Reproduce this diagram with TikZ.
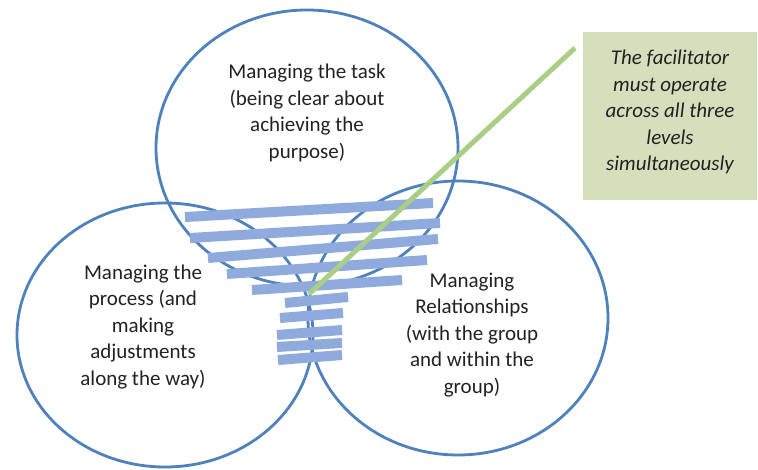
\documentclass[tikz,border=0pt]{standalone}
\usepackage{fontspec}
\setmainfont{Carlito}
\definecolor{ringblue}{HTML}{4F81BD}
\definecolor{barblue}{HTML}{8FAADC}
\definecolor{leafgreen}{HTML}{A9CE86}
\definecolor{boxgreen}{HTML}{D4DFBC}
\definecolor{txt}{HTML}{222222}
\tikzset{
  ring/.style={draw=ringblue, line width=2.8pt},
  bar/.style={draw=barblue, line width=10pt, line cap=butt},
  label/.style={align=center, text=txt, font=\fontsize{21}{26.5}\selectfont, inner sep=0pt},
  note/.style={fill=boxgreen, minimum width=174pt, minimum height=168pt, inner sep=0pt},
  pointer/.style={draw=leafgreen, line width=5pt}
}
\begin{document}
\begin{tikzpicture}[x=1pt,y=-1pt]
\useasboundingbox (0,0) rectangle (758,470);
\fill[white] (0,0) rectangle (758,470);
% circles
\draw[ring] (307,148) ellipse [x radius=151, y radius=138];
\draw[ring] (165,335) ellipse [x radius=148, y radius=132];
\draw[ring] (458,318) ellipse [x radius=150, y radius=137];
% bars
\coordinate (b1l) at (185,217); \coordinate (b1r) at (433,203);
\coordinate (b2l) at (190,238); \coordinate (b2r) at (440,223);
\coordinate (b3l) at (208,258); \coordinate (b3r) at (438,239);
\coordinate (b4l) at (227,274); \coordinate (b4r) at (427,260);
\coordinate (b5l) at (252,290); \coordinate (b5r) at (402,280);
\coordinate (b6l) at (285,303); \coordinate (b6r) at (348,297);
\coordinate (b7l) at (280,318); \coordinate (b7r) at (343,313);
\coordinate (b8l) at (277,335); \coordinate (b8r) at (342,330);
\coordinate (b9l) at (277,347); \coordinate (b9r) at (342,343);
\coordinate (b10l) at (278,360); \coordinate (b10r) at (342,355);
\foreach \i in {1,...,10} {\draw[bar] (b\i l) -- (b\i r);}
% note box
\node[note] (box) at (670,116) {};
\node[label, font=\fontsize{21}{26.5}\selectfont\itshape] (boxtext) at (670,112)
  {The facilitator\\must operate\\across all three\\levels\\simultaneously};
% pointer
\coordinate (ptop) at (575,48);
\coordinate (pbot) at (309,294);
\draw[pointer] (ptop) -- (pbot);
% labels
\node[label] (task) at (307,113) {Managing the task\\(being clear about\\achieving the\\purpose)};
\node[label] (process) at (143,327) {Managing the\\process (and\\making\\adjustments\\along the way)};
\node[label] (rel) at (472,335) {Managing\\Relationships\\(with the group\\and within the\\group)};
\end{tikzpicture}
\end{document}
